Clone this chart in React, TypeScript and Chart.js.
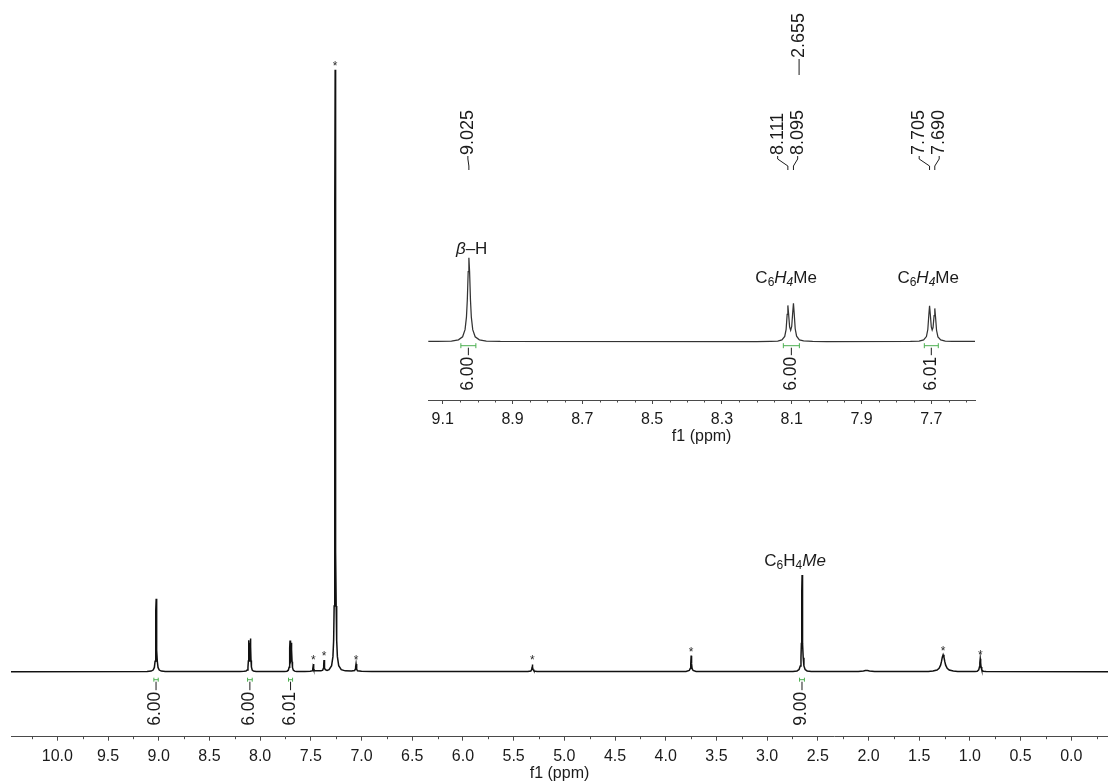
import { useEffect, useRef } from 'react';
import { Chart, registerables } from 'chart.js';

Chart.register(...registerables);

const W = 1108;
const H = 783;
const FONT = '"Liberation Sans", Arial, Helvetica, sans-serif';
const INK = '#1b1b1b';
const AXIS = '#4a4a4a';
const GREEN = '#4caf50';

// [chemical shift / ppm, intensity / % of the CHCl3 line]
type Pt = [number, number];

const betaH: Pt[] = [
  [9.115, 0.03], [9.075, 0.1], [9.055, 0.27], [9.043, 0.71], [9.036, 1.74], [9.032, 3.55],
  [9.0295, 6.07], [9.027, 10.13], [9.025, 12.13], [9.023, 10.13], [9.0205, 6.07], [9.018, 3.55],
  [9.014, 1.74], [9.007, 0.71], [8.995, 0.27], [8.975, 0.1], [8.935, 0.03],
];

const arylOrtho: Pt[] = [
  [8.2, 0.02], [8.16, 0.06], [8.14, 0.1], [8.128, 0.27], [8.12, 0.76], [8.116, 1.79], [8.113, 3.96],
  [8.111, 5.24], [8.109, 4.08], [8.106, 2.13], [8.103, 1.65], [8.1, 2.2], [8.097, 4.28], [8.095, 5.53],
  [8.093, 4.17], [8.09, 1.87], [8.086, 0.79], [8.078, 0.27], [8.066, 0.11], [8.04, 0.05], [8.0, 0.02],
];

const arylMeta: Pt[] = [
  [7.76, 0.04], [7.735, 0.09], [7.722, 0.25], [7.714, 0.74], [7.71, 1.76], [7.707, 3.92], [7.705, 5.18],
  [7.703, 4.04], [7.7, 2.13], [7.6975, 1.7], [7.695, 2.04], [7.692, 3.76], [7.69, 4.81], [7.688, 3.63],
  [7.685, 1.65], [7.681, 0.7], [7.673, 0.26], [7.66, 0.09], [7.64, 0.04],
];

const aromaticSolvent: Pt[] = [
  [7.56, 0.03], [7.505, 0.06], [7.487, 0.15], [7.481, 0.42], [7.478, 0.8], [7.475, 1.28], [7.472, 0.8],
  [7.469, 0.42], [7.463, 0.2], [7.42, 0.15], [7.4, 0.14], [7.383, 0.25], [7.377, 0.55], [7.373, 1.15],
  [7.37, 1.94], [7.367, 1.2], [7.363, 0.6], [7.357, 0.35], [7.34, 0.22], [7.32, 0.35], [7.295, 1.0],
  [7.282, 2.5], [7.275, 5.2], [7.27, 10.9], [7.267, 20], [7.264, 43.4], [7.262, 75.4], [7.26, 100],
  [7.258, 75.4], [7.256, 43.4], [7.253, 20], [7.25, 10.9], [7.245, 5.2], [7.238, 2.5], [7.225, 1.0],
  [7.2, 0.34], [7.16, 0.14], [7.1, 0.1], [7.068, 0.2], [7.062, 0.42], [7.058, 0.8], [7.054, 1.28],
  [7.05, 0.8], [7.046, 0.42], [7.04, 0.15], [7.0, 0.06], [6.9, 0.03],
];

const dichloromethane: Pt[] = [
  [5.36, 0.02], [5.33, 0.12], [5.322, 0.35], [5.318, 0.75], [5.315, 1.2], [5.312, 0.75], [5.308, 0.35],
  [5.3, 0.12], [5.27, 0.02],
];

const methoxyImpurity: Pt[] = [
  [3.8, 0.03], [3.768, 0.2], [3.758, 0.55], [3.753, 1.3], [3.749, 2.67], [3.745, 1.3], [3.74, 0.55],
  [3.73, 0.2], [3.7, 0.03],
];

const arylMethyl: Pt[] = [
  [2.745, 0.04], [2.705, 0.13], [2.685, 0.36], [2.673, 0.95], [2.666, 2.31], [2.662, 4.7], [2.6595, 8.04],
  [2.657, 13.42], [2.655, 16.07], [2.653, 13.42], [2.6505, 8.04], [2.648, 4.7], [2.644, 2.31], [2.637, 0.95],
  [2.625, 0.36], [2.605, 0.13], [2.565, 0.04],
];

const smallBump: Pt[] = [
  [2.1, 0.02], [2.05, 0.1], [2.03, 0.18], [2.02, 0.2], [2.01, 0.18], [1.99, 0.1], [1.94, 0.02],
];

const greaseBroad: Pt[] = [
  [1.41, 0.05], [1.364, 0.11], [1.324, 0.28], [1.304, 0.56], [1.289, 1.09], [1.28, 1.71], [1.272, 2.41],
  [1.264, 2.8], [1.256, 2.41], [1.248, 1.71], [1.239, 1.09], [1.224, 0.56], [1.204, 0.28], [1.164, 0.11],
  [1.12, 0.05],
];

const greaseMethyl: Pt[] = [
  [0.95, 0.03], [0.928, 0.08], [0.913, 0.3], [0.906, 0.78], [0.902, 1.5], [0.898, 2.16], [0.894, 1.5],
  [0.89, 0.78], [0.883, 0.3], [0.868, 0.08], [0.84, 0.03],
];

const trace: Pt[] = [
  [10.46, 0],
  ...betaH,
  ...arylOrtho,
  ...arylMeta,
  ...aromaticSolvent,
  ...dichloromethane,
  ...methoxyImpurity,
  ...arylMethyl,
  ...smallBump,
  ...greaseBroad,
  ...greaseMethyl,
  [-0.37, 0],
];

// peak picking, integration and impurity marks
const pickedShifts = [9.025, 8.111, 8.095, 7.705, 7.69, 2.655];
const integralFrom = [9.048, 8.124, 7.72, 2.68];
const integralTo = [9.005, 8.078, 7.68, 2.632];
const integralValues = [6.0, 6.0, 6.01, 9.0];
const impurityShifts = [7.475, 7.37, 7.26, 7.054, 5.315, 3.749, 1.264, 0.898];

// axis ticks
const mainMajorTicks = [10.0, 9.5, 9.0, 8.5, 8.0, 7.5, 7.0, 6.5, 6.0, 5.5, 5.0, 4.5, 4.0, 3.5, 3.0, 2.5, 2.0, 1.5, 1.0, 0.5, 0.0];
const mainMinorTicks = [10.25, 9.75, 9.25, 8.75, 8.25, 7.75, 7.25, 6.75, 6.25, 5.75, 5.25, 4.75, 4.25, 3.75, 3.25, 2.75, 2.25, 1.75, 1.25, 0.75, 0.25, -0.25];
const insetMajorTicks = [9.1, 8.9, 8.7, 8.5, 8.3, 8.1, 7.9, 7.7];
const insetMinorTicks = [9.05, 9.0, 8.95, 8.85, 8.8, 8.75, 8.65, 8.6, 8.55, 8.45, 8.4, 8.35, 8.25, 8.2, 8.15, 8.05, 8.0, 7.95, 7.85, 7.8, 7.75, 7.65, 7.6];

const mainRange = { min: -0.362, max: 10.457, yMin: -10.8, yMax: 111.6 };
const insetRange = { min: 7.5748, max: 9.1413, yMin: -8.419, yMax: 14.686 };

type Run = { text: string; italic?: boolean; sub?: boolean };

const betaLabel: Run[] = [{ text: 'β', italic: true }, { text: '–H' }];
const ringLabel: Run[] = [{ text: 'C' }, { text: '6', sub: true }, { text: 'H', italic: true }, { text: '4', sub: true, italic: true }, { text: 'Me' }];
const methylLabel: Run[] = [{ text: 'C' }, { text: '6', sub: true }, { text: 'H' }, { text: '4', sub: true }, { text: 'Me', italic: true }];

function apexNear(ppm: number): number {
  let best = 0;
  for (const [s, v] of trace) if (Math.abs(s - ppm) <= 0.012 && v > best) best = v;
  return best;
}

function drawRuns(ctx: CanvasRenderingContext2D, runs: Run[], cx: number, cy: number, size: number) {
  const fontOf = (r: Run) => `${r.italic ? 'italic ' : ''}${r.sub ? Math.round(size * 0.68) : size}px ${FONT}`;
  let total = 0;
  const widths = runs.map((r) => {
    ctx.font = fontOf(r);
    const w = ctx.measureText(r.text).width;
    total += w;
    return w;
  });
  let x = cx - total / 2;
  const baseY = cy + size * 0.36;
  ctx.textAlign = 'left';
  ctx.textBaseline = 'alphabetic';
  ctx.fillStyle = INK;
  runs.forEach((r, i) => {
    ctx.font = fontOf(r);
    ctx.fillText(r.text, x, r.sub ? baseY + size * 0.2 : baseY);
    x += widths[i];
  });
}

function drawMinorTicks(chart: Chart, values: number[], len: number) {
  const { ctx } = chart;
  const xs = chart.scales.x;
  ctx.save();
  ctx.strokeStyle = AXIS;
  ctx.lineWidth = 1;
  ctx.beginPath();
  for (const v of values) {
    const px = Math.round(xs.getPixelForValue(v)) + 0.5;
    ctx.moveTo(px, xs.top);
    ctx.lineTo(px, xs.top + len);
  }
  ctx.stroke();
  ctx.restore();
}

function drawIntegrals(chart: Chart, lo: number, hi: number, bracketGap: number, textGap: number, cap: number) {
  const { ctx } = chart;
  const xs = chart.scales.x;
  const base = chart.scales.y.getPixelForValue(0);
  ctx.save();
  integralValues.forEach((val, i) => {
    const mid = (integralFrom[i] + integralTo[i]) / 2;
    if (mid < lo || mid > hi) return;
    const x1 = xs.getPixelForValue(integralFrom[i]);
    const x2 = xs.getPixelForValue(integralTo[i]);
    const xc = (x1 + x2) / 2;
    const yb = base + bracketGap;
    ctx.strokeStyle = GREEN;
    ctx.lineWidth = 1;
    ctx.beginPath();
    ctx.moveTo(x1, yb);
    ctx.lineTo(x2, yb);
    ctx.moveTo(x1, yb - cap);
    ctx.lineTo(x1, yb + cap);
    ctx.moveTo(x2, yb - cap);
    ctx.lineTo(x2, yb + cap);
    ctx.stroke();
    ctx.strokeStyle = INK;
    ctx.beginPath();
    ctx.moveTo(xc, yb + 2);
    ctx.lineTo(xc, base + textGap - 1.5);
    ctx.stroke();
    ctx.save();
    ctx.translate(xc - 0.5, base + textGap);
    ctx.rotate(-Math.PI / 2);
    ctx.font = `17.5px ${FONT}`;
    ctx.fillStyle = INK;
    ctx.textAlign = 'right';
    ctx.textBaseline = 'middle';
    ctx.fillText(val.toFixed(2), 0, 0);
    ctx.restore();
  });
  ctx.restore();
}

function drawVerticalText(ctx: CanvasRenderingContext2D, text: string, x: number, bottom: number, size: number) {
  ctx.save();
  ctx.translate(x, bottom);
  ctx.rotate(-Math.PI / 2);
  ctx.font = `${size}px ${FONT}`;
  ctx.fillStyle = INK;
  ctx.textAlign = 'left';
  ctx.textBaseline = 'middle';
  ctx.fillText(text, 0, 0);
  ctx.restore();
}

const mainDecor = {
  id: 'mainDecor',
  afterDraw(chart: Chart) {
    const { ctx } = chart;
    const xs = chart.scales.x;
    const ys = chart.scales.y;
    drawMinorTicks(chart, mainMinorTicks, 2.5);

    // impurity / solvent marks
    ctx.save();
    ctx.font = `12px ${FONT}`;
    ctx.fillStyle = '#2a2a2a';
    ctx.textAlign = 'center';
    ctx.textBaseline = 'alphabetic';
    for (const s of impurityShifts) {
      ctx.fillText('*', xs.getPixelForValue(s), ys.getPixelForValue(apexNear(s)));
    }
    ctx.restore();

    drawIntegrals(chart, mainRange.min, mainRange.max, 8, 20, 2);

    // methyl assignment
    const mx = xs.getPixelForValue(2.655);
    drawRuns(ctx, methylLabel, mx - 7, ys.getPixelForValue(apexNear(2.655)) - 15, 17);

    // shifts outside the expanded region
    ctx.save();
    ctx.strokeStyle = INK;
    ctx.lineWidth = 1;
    for (const s of pickedShifts) {
      if (s >= insetRange.min) continue;
      const px = xs.getPixelForValue(s);
      drawVerticalText(ctx, s.toFixed(3), px - 3, 58, 18);
      ctx.beginPath();
      ctx.moveTo(px - 3, 59);
      ctx.lineTo(px - 3, 75);
      ctx.stroke();
    }
    ctx.restore();
  },
};

const insetDecor = {
  id: 'insetDecor',
  afterDraw(chart: Chart) {
    const { ctx } = chart;
    const xs = chart.scales.x;
    const ys = chart.scales.y;
    drawMinorTicks(chart, insetMinorTicks, 2.5);
    drawIntegrals(chart, insetRange.min, insetRange.max, 4, 15, 2.5);

    // assignments
    drawRuns(ctx, betaLabel, xs.getPixelForValue(9.017), ys.getPixelForValue(13.53), 17);
    drawRuns(ctx, ringLabel, xs.getPixelForValue(8.116), ys.getPixelForValue(9.39), 17);
    drawRuns(ctx, ringLabel, xs.getPixelForValue(7.709), ys.getPixelForValue(9.39), 17);

    // peak picking labels, spread apart where lines are close
    const inside = pickedShifts.filter((s) => s >= insetRange.min && s <= insetRange.max);
    const px = inside.map((s) => xs.getPixelForValue(s));
    const groups: number[][] = [];
    px.forEach((p, i) => {
      const g = groups[groups.length - 1];
      if (g && p - px[g[g.length - 1]] < 20) g.push(i);
      else groups.push([i]);
    });
    ctx.save();
    ctx.strokeStyle = INK;
    ctx.lineWidth = 1;
    for (const g of groups) {
      const center = g.reduce((a, i) => a + px[i], 0) / g.length - (g.length > 1 ? 3 : 1);
      g.forEach((i, k) => {
        const lx = center + (k - (g.length - 1) / 2) * 20;
        drawVerticalText(ctx, inside[i].toFixed(3), lx, 155, 18);
        ctx.beginPath();
        ctx.moveTo(lx, 156);
        ctx.lineTo(lx, 159);
        ctx.lineTo(px[i], 166);
        ctx.lineTo(px[i], 170);
        ctx.stroke();
      });
    }
    ctx.restore();
  },
};

function buildConfig(
  range: { min: number; max: number; yMin: number; yMax: number },
  majors: number[],
  padding: { left: number; right: number; top: number; bottom: number },
  axisHeight: number,
  titlePad: number,
  lineColor: string,
  lineWidth: number,
  decor: object,
): any {
  return {
    type: 'line',
    data: {
      datasets: [
        {
          data: trace.map(([x, y]) => ({ x, y })),
          borderColor: lineColor,
          borderWidth: lineWidth,
          pointRadius: 0,
          tension: 0,
          fill: false,
        },
      ],
    },
    options: {
      animation: false,
      responsive: false,
      devicePixelRatio: 1,
      events: [],
      layout: { padding, autoPadding: false },
      plugins: { legend: { display: false }, tooltip: { enabled: false }, title: { display: false } },
      scales: {
        x: {
          type: 'linear',
          reverse: true,
          min: range.min,
          max: range.max,
          afterBuildTicks: (s: any) => {
            s.ticks = majors.map((v) => ({ value: v }));
          },
          afterFit: (s: any) => {
            s.height = axisHeight;
          },
          ticks: {
            color: INK,
            font: { size: 16, family: FONT },
            padding: 6,
            maxRotation: 0,
            minRotation: 0,
            autoSkip: false,
            callback: (v: number | string) => Number(v).toFixed(1),
          },
          grid: { display: true, drawOnChartArea: false, drawTicks: true, tickLength: 4, tickColor: AXIS, tickWidth: 1, color: AXIS },
          border: { display: true, color: AXIS, width: 1 },
          title: { display: true, text: 'f1 (ppm)', color: INK, font: { size: 16, family: FONT }, padding: { top: 0, bottom: titlePad } },
        },
        y: { display: false, min: range.yMin, max: range.yMax },
      },
    },
    plugins: [decor],
  };
}

export default function App() {
  const mainRef = useRef<HTMLCanvasElement>(null);
  const insetRef = useRef<HTMLCanvasElement>(null);

  useEffect(() => {
    const main = new Chart(
      mainRef.current!,
      buildConfig(mainRange, mainMajorTicks, { left: 11, right: 0, top: 0, bottom: 0 }, 46.3, 0, '#111111', 1.5, mainDecor),
    );
    const inset = new Chart(
      insetRef.current!,
      buildConfig(insetRange, insetMajorTicks, { left: 428.3, right: 133, top: 240, bottom: 335.7 }, 47.3, 1, '#333333', 1.25, insetDecor),
    );
    return () => {
      main.destroy();
      inset.destroy();
    };
  }, []);

  return (
    <div style={{ position: 'fixed', left: 0, top: 0, width: W, height: H, background: '#ffffff' }}>
      <canvas ref={mainRef} width={W} height={H} style={{ position: 'absolute', left: 0, top: 0 }} />
      <canvas ref={insetRef} width={W} height={H} style={{ position: 'absolute', left: 0, top: 0 }} />
    </div>
  );
}
